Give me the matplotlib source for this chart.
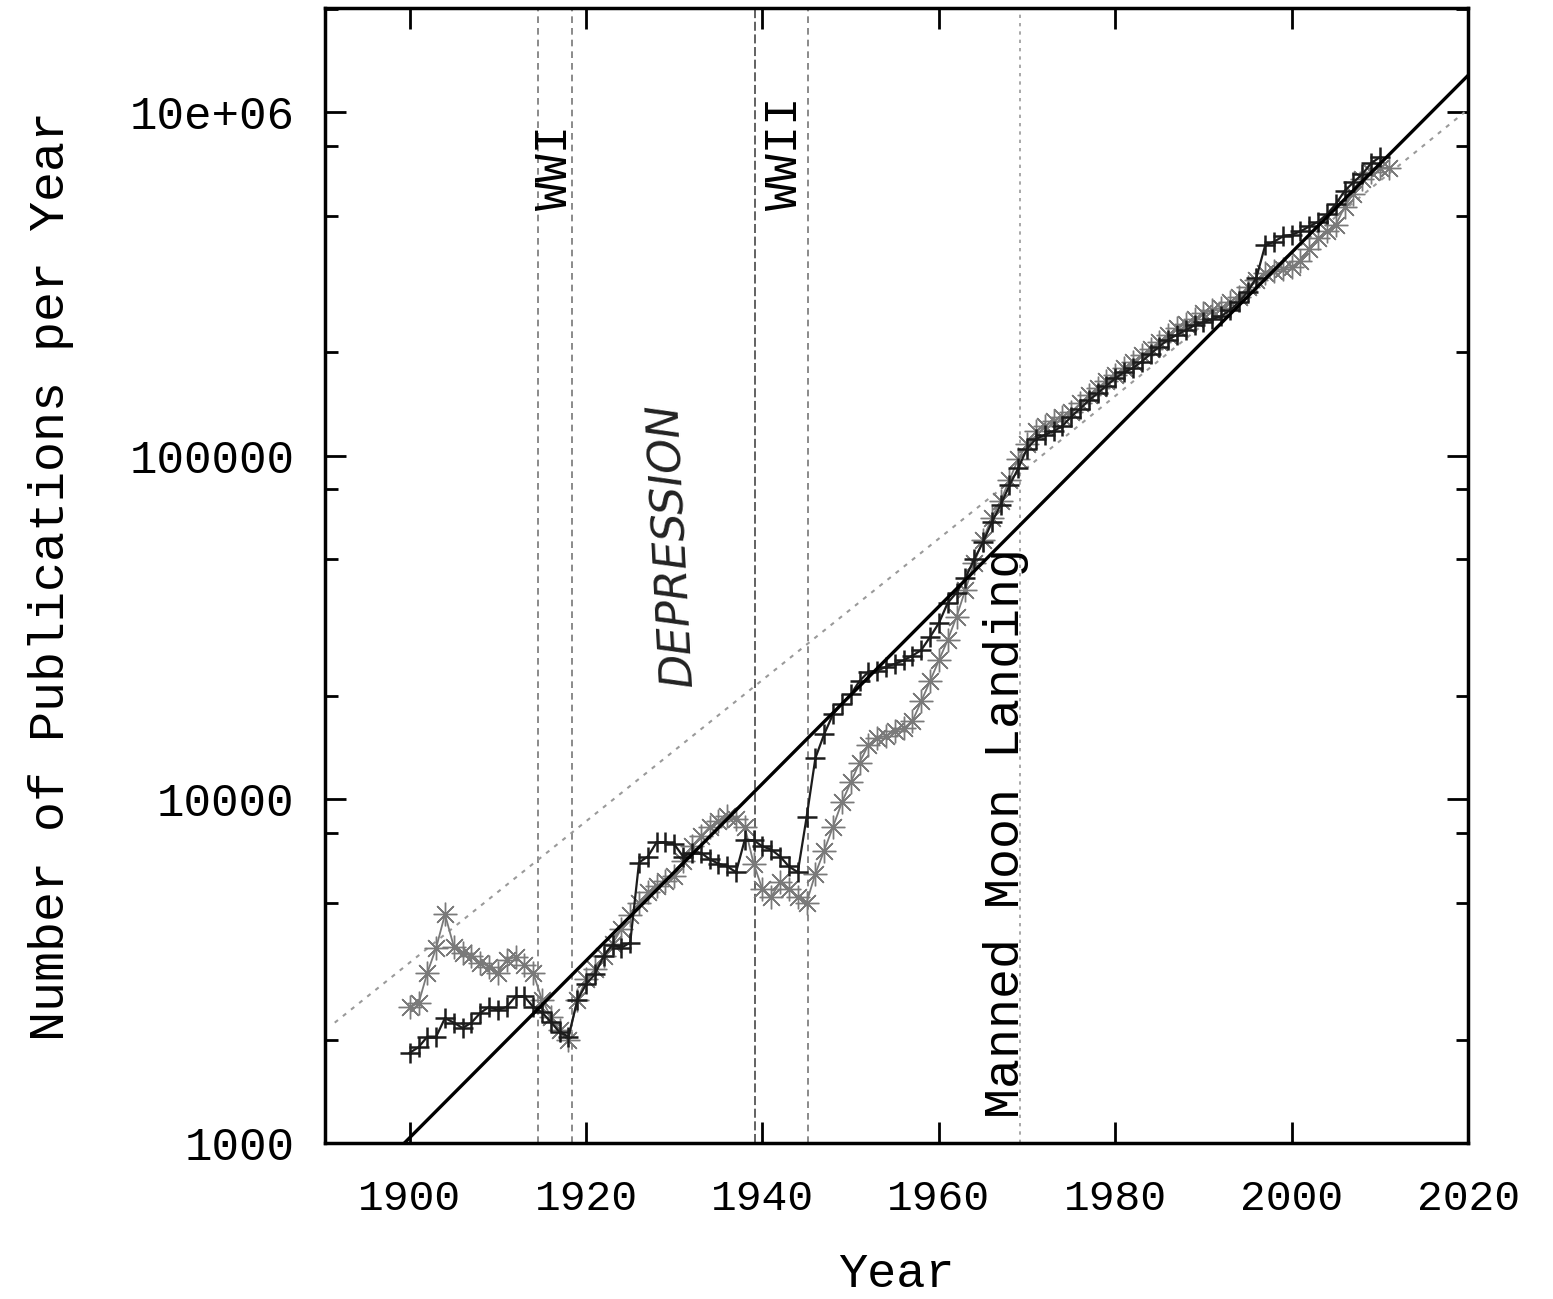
import matplotlib.pyplot as plt
from matplotlib.ticker import FixedLocator, LogLocator, NullFormatter

# publications per year, black series (+)
years_a = list(range(1900, 2011))
pubs_a = [1830, 1900, 2040, 2040, 2310, 2240, 2160, 2240, 2390, 2490,
          2440, 2490, 2670, 2670, 2490, 2400, 2250, 2100, 2040, 2600,
          2900, 3100, 3500, 3780, 3700, 3830, 6550, 6820, 7500, 7500,
          7400, 6820, 7000, 7000, 6700, 6500, 6380, 6140, 7640, 7600,
          7300, 7140, 6820, 6380, 6140, 8870, 13200, 15500, 17700, 19000,
          20200, 22100, 23500, 23700, 24300, 24800, 25400, 26200, 27200, 29700,
          32600, 37300, 40000, 44000, 50000, 56000, 64000, 72000, 82000, 92000,
          105000, 112000, 115000, 118000, 122000, 130000, 137000, 145000, 152000, 160000,
          168000, 175000, 180000, 188000, 198000, 208000, 218000, 225000, 232000, 240000,
          245000, 250000, 255000, 265000, 280000, 300000, 330000, 410000, 420000, 435000,
          440000, 450000, 465000, 480000, 505000, 540000, 590000, 625000, 660000, 710000,
          740000]

# gray series (*)
years_b = list(range(1900, 2012))
pubs_b = [2490, 2550, 3130, 3700, 4630, 3730, 3580, 3500, 3350, 3260,
          3130, 3420, 3480, 3300, 3130, 2610, 2330, 2130, 2000, 2610,
          3000, 3200, 3500, 3800, 4200, 4600, 5000, 5360, 5600, 5800,
          5970, 6600, 7300, 7800, 8300, 8630, 8920, 8750, 8300, 6500,
          5470, 5210, 5730, 5470, 5210, 5010, 6080, 7100, 8330, 9800,
          11200, 12800, 14400, 15100, 15300, 15800, 16100, 16900, 19300, 22100,
          25400, 29100, 34000, 40700, 48800, 57000, 66000, 74000, 85000, 98000,
          108000, 118000, 122000, 126000, 130000, 134000, 142000, 150000, 158000, 165000,
          172000, 180000, 188000, 196000, 205000, 215000, 225000, 235000, 242000, 250000,
          260000, 265000, 270000, 280000, 290000, 310000, 325000, 340000, 345000, 350000,
          355000, 370000, 400000, 430000, 450000, 470000, 530000, 580000, 640000, 670000,
          690000, 690000]

# exponential fit lines
fit_years = [1899.4, 2020]
fit_vals = [1000, 1.28e6]
dot_years = [1891.5, 1967, 2019.6]
dot_vals = [2240, 80000, 1.0e6]

# events
event_years = [1914.5, 1918.4, 1939.1, 1945.2, 1969.2]

mono = 'Liberation Mono'

fig = plt.figure(figsize=(15.53, 12.99), dpi=100)
ax = fig.add_axes([0.2093, 0.1201, 0.7360, 0.8737])

for i, yr in enumerate(event_years):
    if i == 4:
        ax.axvline(yr, color='#999999', lw=1.2, ls=(0, (2, 3)), zorder=1)
    elif i == 2:
        ax.axvline(yr, color='#555555', lw=1.3, ls=(0, (5, 2)), zorder=1)
    else:
        ax.axvline(yr, color='#777777', lw=1.2, ls=(0, (4, 3)), zorder=1)

ax.plot(dot_years, dot_vals, color='#9a9a9a', lw=1.5, ls=(0, (2, 3)), zorder=2)

ax.plot(years_b, pubs_b, color='#7a7a7a', lw=1.3, marker=(8, 2, 0),
        ms=17, mew=1.0, zorder=3)
ax.plot(years_a, pubs_a, color='#1c1c1c', lw=1.6, marker='+',
        ms=15, mew=1.8, zorder=4)

ax.plot(fit_years, fit_vals, color='black', lw=2.4, zorder=5)

ax.set_yscale('log')
ax.set_xlim(1890.4, 2020)
ax.set_ylim(1000, 2.01e6)

ax.xaxis.set_major_locator(FixedLocator([1900, 1920, 1940, 1960, 1980, 2000, 2020]))
ax.set_xticklabels(['1900', '1920', '1940', '1960', '1980', '2000', '2020'],
                   fontfamily=mono, fontsize=31)
ax.yaxis.set_major_locator(FixedLocator([1e3, 1e4, 1e5, 1e6]))
ax.set_yticklabels(['1000', '10000', '100000', '10e+06'],
                   fontfamily=mono, fontsize=33)
ax.yaxis.set_minor_locator(LogLocator(base=10, subs=[2, 5, 8]))
ax.yaxis.set_minor_formatter(NullFormatter())

ax.tick_params(axis='both', which='major', direction='in', length=15,
               width=2, top=True, right=True)
ax.tick_params(axis='y', which='minor', direction='in', length=9,
               width=2, right=True)
ax.tick_params(axis='x', which='major', pad=26)
ax.tick_params(axis='y', which='major', pad=22)
for s in ax.spines.values():
    s.set_linewidth(2.5)

ax.set_xlabel('Year', fontfamily=mono, fontsize=35, labelpad=24)
ax.set_ylabel('Number of Publications per Year', fontfamily=mono,
              fontsize=36, labelpad=40)

ax.text(1916.5, 6.9e5, 'WWI', rotation=90, fontfamily=mono, fontsize=34,
        ha='center', va='center')
ax.text(1942.6, 7.6e5, 'WWII', rotation=90, fontfamily=mono, fontsize=34,
        ha='center', va='center')
ax.text(1967.6, 8000, 'Manned Moon Landing', rotation=90, fontfamily=mono,
        fontsize=36, ha='center', va='center')
ax.text(1929.8, 55000, 'DEPRESSION', rotation=93, fontfamily='DejaVu Sans',
        fontstyle='italic', fontweight='light', fontsize=32, ha='center',
        va='center', color='#222222')

plt.savefig('out.png', dpi=100)
